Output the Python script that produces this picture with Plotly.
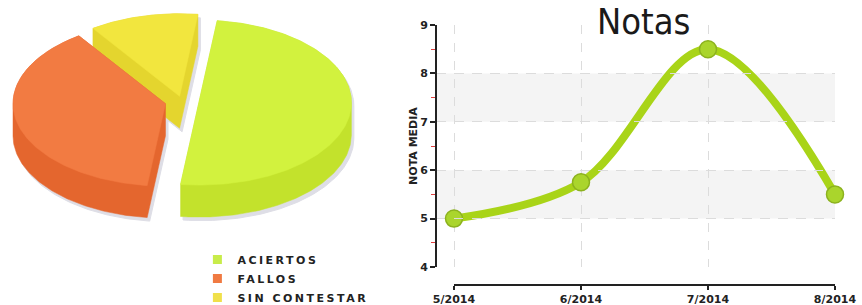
import numpy as np
import plotly.graph_objects as go

# ---------------- data ----------------
pie_labels = ["ACIERTOS", "FALLOS", "SIN CONTESTAR"]
pie_values = [13, 10, 3]

months = ["5/2014", "6/2014", "7/2014", "8/2014"]
notas = [5.0, 5.75, 8.5, 5.5]

y_ticks = [4, 5, 6, 7, 8, 9]

# ---------------- styles ----------------
top_colors = ["#d2f23e", "#f27b42", "#f2e63e"]
side_colors = ["#c3e22c", "#e4662e", "#e4d52e"]
legend_colors = ["#c8ec4a", "#f07a42", "#f0e04a"]
shadow_color = "#dedee6"
LINE_COLOR = "#a9d418"
MARK_COLOR = "#aad52c"
MARK_EDGE = "#8cb21e"
DARK = "#222222"
LABEL_FONT = "DejaVu Sans"

W, H = 862, 305

# pseudo-3D pie geometry (pixel-like units on a hidden axis, y downwards)
PIE_C = (182.0, 101.5)
RX, RY = 152.5, 82.5
DEPTH = 32.0
PULLS = [17.0, 17.0, 10.0]
START_ANGLE = 83.1  # degrees, slices run clockwise


def convex_hull(points):
    pts = sorted(set(points))
    if len(pts) <= 2:
        return pts

    def cross(o, a, b):
        return (a[0] - o[0]) * (b[1] - o[1]) - (a[1] - o[1]) * (b[0] - o[0])

    lower, upper = [], []
    for p in pts:
        while len(lower) >= 2 and cross(lower[-2], lower[-1], p) <= 0:
            lower.pop()
        lower.append(p)
    for p in reversed(pts):
        while len(upper) >= 2 and cross(upper[-2], upper[-1], p) <= 0:
            upper.pop()
        upper.append(p)
    return lower[:-1] + upper[:-1]


fig = go.Figure()

total = float(sum(pie_values))
slices = []
cum = 0.0
for i, v in enumerate(pie_values):
    a0 = START_ANGLE - cum / total * 360.0
    a1 = a0 - v / total * 360.0
    cum += v
    mid = np.radians((a0 + a1) / 2.0)
    cx = PIE_C[0] + PULLS[i] * np.cos(mid)
    cy = PIE_C[1] - PULLS[i] * (RY / RX) * np.sin(mid)
    n = max(12, int(abs(a1 - a0)))
    t = np.radians(np.linspace(a0, a1, n))
    arc = [(round(cx + RX * np.cos(a), 3), round(cy - RY * np.sin(a), 3)) for a in t]
    top = [(round(cx, 3), round(cy, 3))] + arc
    bottom = [(x, y + DEPTH) for x, y in top]
    hull = convex_hull(top + bottom)
    slices.append(dict(i=i, top=top, hull=hull, cy=cy))

pie_axes = dict(xaxis="x3", yaxis="y3")

# shadows
for s in slices:
    hx = [p[0] + 2.5 for p in s["hull"]] + [s["hull"][0][0] + 2.5]
    hy = [p[1] + 3.5 for p in s["hull"]] + [s["hull"][0][1] + 3.5]
    fig.add_trace(go.Scatter(x=hx, y=hy, fill="toself", mode="lines",
                             line=dict(color=shadow_color, width=1),
                             fillcolor=shadow_color, showlegend=False,
                             hoverinfo="skip", **pie_axes))

# sides + tops, back to front
for s in sorted(slices, key=lambda d: d["cy"]):
    i = s["i"]
    hx = [p[0] for p in s["hull"]] + [s["hull"][0][0]]
    hy = [p[1] for p in s["hull"]] + [s["hull"][0][1]]
    fig.add_trace(go.Scatter(x=hx, y=hy, fill="toself", mode="lines",
                             line=dict(color=side_colors[i], width=0.5),
                             fillcolor=side_colors[i], showlegend=False,
                             hoverinfo="skip", **pie_axes))
    tx = [p[0] for p in s["top"]] + [s["top"][0][0]]
    ty = [p[1] for p in s["top"]] + [s["top"][0][1]]
    fig.add_trace(go.Scatter(x=tx, y=ty, fill="toself", mode="lines",
                             line=dict(color=top_colors[i], width=0.5),
                             fillcolor=top_colors[i], showlegend=False,
                             name=pie_labels[i],
                             hovertemplate="%s: %d<extra></extra>" % (pie_labels[i], pie_values[i]),
                             **pie_axes))

# legend entries (square swatches)
for i, lab in enumerate(pie_labels):
    fig.add_trace(go.Scatter(x=[None], y=[None], mode="markers", name=lab,
                             marker=dict(symbol="square", size=9, color=legend_colors[i]),
                             showlegend=True, **pie_axes))

# ---------------- line chart ----------------
fig.add_trace(go.Scatter(x=months, y=notas, mode="lines+markers",
                         line=dict(shape="spline", smoothing=1.0, width=8, color=LINE_COLOR),
                         marker=dict(size=17, color=MARK_COLOR, line=dict(color=MARK_EDGE, width=1.5)),
                         cliponaxis=False, showlegend=False, xaxis="x", yaxis="y",
                         name="Nota media"))
# carrier for the separate bottom axis
fig.add_trace(go.Scatter(x=months, y=notas, mode="markers", marker=dict(opacity=0),
                         showlegend=False, hoverinfo="skip", xaxis="x2", yaxis="y"))

px0, px_first, px_last = 437, 454, 835
unit = (px_last - px_first) / (len(months) - 1)
x_left = -(px_first - px0) / unit
y_bot_px, y_top_px = 267, 25

band_ranges = [(5, 6), (7, 8)]
shapes = [dict(type="rect", xref="x domain", x0=0, x1=1, yref="y", y0=a, y1=b,
               fillcolor="#f4f4f4", line=dict(width=0), layer="below")
          for a, b in band_ranges]

tickfont = dict(family=LABEL_FONT, size=11, color=DARK, weight="bold")

fig.update_layout(
    width=W, height=H,
    margin=dict(l=0, r=0, t=0, b=0, autoexpand=False),
    paper_bgcolor="white", plot_bgcolor="rgba(0,0,0,0)",
    shapes=shapes,
    showlegend=True,
    legend=dict(x=0.229, y=1 - 245 / H, xanchor="left", yanchor="top",
                bgcolor="rgba(0,0,0,0)", tracegroupgap=0, itemwidth=30,
                font=dict(family=LABEL_FONT, size=11, color=DARK, weight="bold")),
    xaxis=dict(domain=[px0 / W, px_last / W], type="category", categoryarray=months,
               range=[x_left, len(months) - 1], showgrid=True, gridcolor="#dcdcdc",
               griddash="dash", gridwidth=1, showticklabels=False, ticks="",
               showline=False, zeroline=False, anchor="y", automargin=False),
    xaxis2=dict(domain=[px_first / W, px_last / W], type="category", categoryarray=months,
                range=[0, len(months) - 1], anchor="free", position=1 - 285 / H,
                showline=True, linecolor=DARK, linewidth=2, ticks="outside",
                ticklen=4, tickwidth=2, tickcolor=DARK, showgrid=False,
                zeroline=False, tickfont=tickfont, automargin=False),
    yaxis=dict(domain=[1 - y_bot_px / H, 1 - y_top_px / H], range=[4, 9],
               tickvals=y_ticks, showgrid=True, gridcolor="#dcdcdc", griddash="dash",
               gridwidth=1, showline=True, linecolor=DARK, linewidth=2,
               ticks="outside", ticklen=5, tickwidth=2, tickcolor=DARK,
               minor=dict(dtick=0.5, tick0=4, ticks="outside", ticklen=4,
                          tickcolor="#e04040", tickwidth=1, showgrid=False),
               zeroline=False, anchor="x", tickfont=tickfont, automargin=False,
               title=dict(text="NOTA MEDIA", standoff=0,
                          font=dict(family=LABEL_FONT, size=11, color=DARK, weight="bold"))),
    xaxis3=dict(domain=[0, 380 / W], range=[0, 380], visible=False, fixedrange=True,
                automargin=False),
    yaxis3=dict(domain=[0, 1], range=[H, 0], visible=False, fixedrange=True, anchor="x3",
                automargin=False),
    annotations=[dict(text="Notas", xref="paper", yref="paper", x=643 / W, y=1 - 22 / H,
                      xanchor="center", yanchor="middle", showarrow=False,
                      font=dict(family="Liberation Sans Narrow, DejaVu Sans Condensed, sans-serif",
                                size=36, color="#1a1a1a"))],
)

post = """
document.body.style.margin = '0px';
document.body.style.padding = '0px';
var st = document.createElement('style');
st.textContent = '.legendtext{letter-spacing:2.5px;} .legend .scrollbox{clip-path:none !important;}';
document.head.appendChild(st);
"""

fig.write_html("out.html", post_script=post, config={"displayModeBar": False})
